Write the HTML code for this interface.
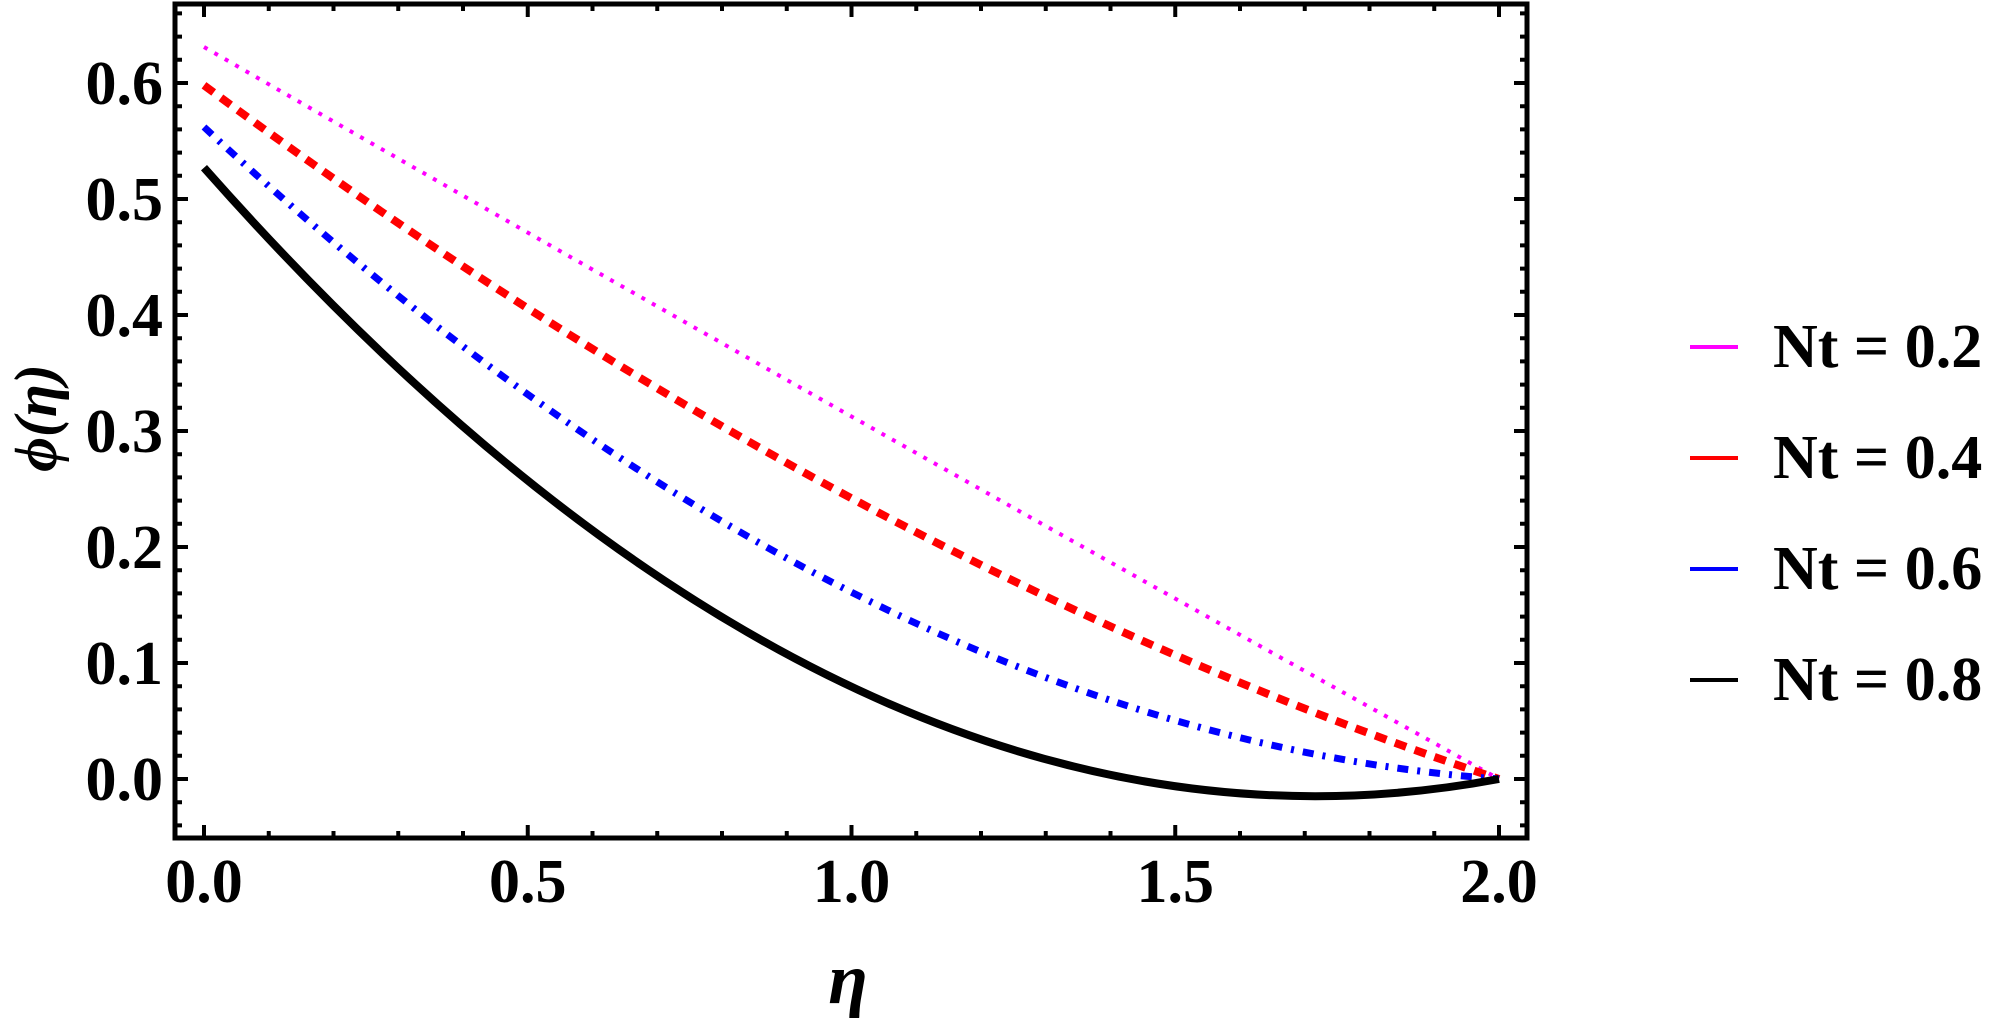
<!DOCTYPE html>
<html><head><meta charset="utf-8"><style>html,body{margin:0;padding:0;background:#fff}svg{display:block}</style></head>
<body>
<svg width="2008" height="1018" viewBox="0 0 2008 1018" xmlns="http://www.w3.org/2000/svg" font-family="'Liberation Serif', serif">
<rect width="2008" height="1018" fill="#fff"/>
<path d="M204 47 Q851.5 420 1499 779" fill="none" stroke="#ff00ff" stroke-width="4" stroke-dasharray="4 8"/>
<path d="M204 85.3 Q851.5 564.4 1499 779" fill="none" stroke="#ff0000" stroke-width="8" stroke-dasharray="12 9"/>
<path d="M204 127 Q851.5 731.4 1499 779" fill="none" stroke="#0000ff" stroke-width="7" stroke-dasharray="11 9 3 9"/>
<path d="M204 167.7 Q851.5 900.2 1499 779" fill="none" stroke="#000" stroke-width="8"/>
<rect x="175" y="4" width="1352" height="834" fill="none" stroke="#000" stroke-width="5"/>
<g stroke="#000" stroke-width="4">
<path d="M175 825.4h7M175 802.2h7M175 755.8h7M175 732.6h7M175 709.4h7M175 686.2h7M175 639.8h7M175 616.6h7M175 593.4h7M175 570.2h7M175 523.8h7M175 500.6h7M175 477.4h7M175 454.2h7M175 407.8h7M175 384.6h7M175 361.4h7M175 338.2h7M175 291.8h7M175 268.6h7M175 245.4h7M175 222.2h7M175 175.8h7M175 152.6h7M175 129.4h7M175 106.2h7M175 59.8h7M175 36.6h7M175 13.4h7"/>
<path d="M1527 825.4h-7M1527 802.2h-7M1527 755.8h-7M1527 732.6h-7M1527 709.4h-7M1527 686.2h-7M1527 639.8h-7M1527 616.6h-7M1527 593.4h-7M1527 570.2h-7M1527 523.8h-7M1527 500.6h-7M1527 477.4h-7M1527 454.2h-7M1527 407.8h-7M1527 384.6h-7M1527 361.4h-7M1527 338.2h-7M1527 291.8h-7M1527 268.6h-7M1527 245.4h-7M1527 222.2h-7M1527 175.8h-7M1527 152.6h-7M1527 129.4h-7M1527 106.2h-7M1527 59.8h-7M1527 36.6h-7M1527 13.4h-7"/>
<path d="M175 779h13M175 663h13M175 547h13M175 431h13M175 315h13M175 199h13M175 83h13"/>
<path d="M1527 779h-13M1527 663h-13M1527 547h-13M1527 431h-13M1527 315h-13M1527 199h-13M1527 83h-13"/>
<path d="M268.75 838v-7M333.5 838v-7M398.25 838v-7M463 838v-7M592.5 838v-7M657.25 838v-7M722 838v-7M786.75 838v-7M916.25 838v-7M981 838v-7M1045.75 838v-7M1110.5 838v-7M1240 838v-7M1304.75 838v-7M1369.5 838v-7M1434.25 838v-7"/>
<path d="M268.75 4v7M333.5 4v7M398.25 4v7M463 4v7M592.5 4v7M657.25 4v7M722 4v7M786.75 4v7M916.25 4v7M981 4v7M1045.75 4v7M1110.5 4v7M1240 4v7M1304.75 4v7M1369.5 4v7M1434.25 4v7"/>
<path d="M204 838v-13M527.75 838v-13M851.5 838v-13M1175.25 838v-13M1499 838v-13"/>
<path d="M204 4v13M527.75 4v13M851.5 4v13M1175.25 4v13M1499 4v13"/>
</g>
<g font-size="62" font-weight="bold" text-anchor="end" fill="#000">
<text x="163" y="800">0.0</text>
<text x="163" y="684">0.1</text>
<text x="163" y="568">0.2</text>
<text x="163" y="452">0.3</text>
<text x="163" y="336">0.4</text>
<text x="163" y="220">0.5</text>
<text x="163" y="104">0.6</text>
</g>
<g font-size="62" font-weight="bold" text-anchor="middle" fill="#000">
<text x="204" y="902">0.0</text>
<text x="527.75" y="902">0.5</text>
<text x="851.5" y="902">1.0</text>
<text x="1175.25" y="902">1.5</text>
<text x="1499" y="902">2.0</text>
</g>
<text x="848" y="1003" font-size="72" font-style="italic" font-weight="bold" text-anchor="middle">η</text>
<text transform="translate(56 418) rotate(-90)" font-size="60" font-style="italic" font-weight="bold" text-anchor="middle">ϕ(η)</text>
<g stroke-width="4">
<line x1="1690" y1="347" x2="1738" y2="347" stroke="#ff00ff"/>
<line x1="1690" y1="458" x2="1738" y2="458" stroke="#ff0000"/>
<line x1="1690" y1="569" x2="1738" y2="569" stroke="#0000ff"/>
<line x1="1690" y1="680" x2="1738" y2="680" stroke="#000"/>
</g>
<g font-size="62" font-weight="bold" fill="#000">
<text x="1773" y="367">Nt = 0.2</text>
<text x="1773" y="478">Nt = 0.4</text>
<text x="1773" y="589">Nt = 0.6</text>
<text x="1773" y="700">Nt = 0.8</text>
</g>
</svg>
</body></html>
